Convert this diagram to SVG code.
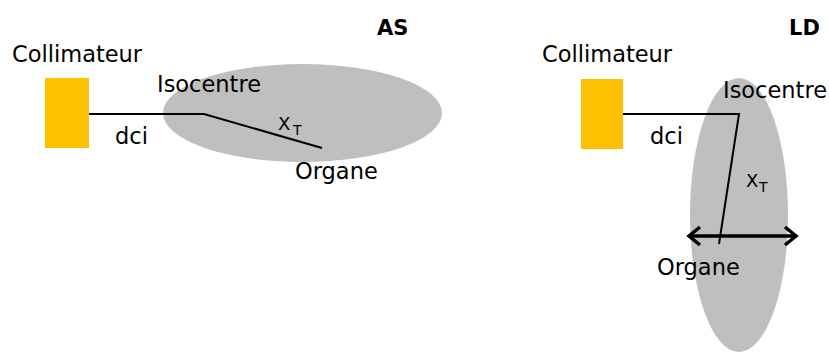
<svg xmlns="http://www.w3.org/2000/svg" width="829" height="352" viewBox="0 0 829 352">
<style>
text{font-family:"DejaVu Sans",sans-serif;fill:#000}
.lbl{font-size:22.5px}
.ttl{font-size:21px;font-weight:bold}
.x{font-size:18px}
.sub{font-size:14px}
.organ{fill:#BFBFBF}
.coll{fill:#FFC000}
.ln{fill:none;stroke:#000;stroke-width:2}
.arr{fill:none;stroke:#000;stroke-width:3.5}
</style>
<rect width="829" height="352" fill="#fff"/>
<g id="AS">
<text class="ttl" x="377" y="35">AS</text>
<g id="as-organe"><ellipse class="organ" cx="302.5" cy="113" rx="139.5" ry="49"/></g>
<g id="as-collimateur"><rect class="coll" x="45" y="78" width="44" height="70"/><text class="lbl" x="12" y="62">Collimateur</text></g>
<g id="as-connectors">
<polyline class="ln" points="89,114 204,114 322,148"/>
</g>
<text class="lbl" x="157" y="92">Isocentre</text>
<text class="lbl" x="115" y="144">dci</text>
<text class="x" x="278" y="130">X</text><text class="sub" x="293" y="135">T</text>
<text class="lbl" x="295" y="179">Organe</text>
</g>
<g id="LD">
<text class="ttl" x="789" y="35">LD</text>
<g id="ld-organe"><ellipse class="organ" cx="739" cy="215" rx="49" ry="137"/></g>
<g id="ld-collimateur"><rect class="coll" x="581" y="79" width="42" height="70"/><text class="lbl" x="542" y="62">Collimateur</text></g>
<g id="ld-connectors">
<polyline class="ln" points="623,114 739,114 719,244"/>
<line class="arr" x1="690" y1="236" x2="795" y2="236"/>
<polyline class="arr" points="700,227 689,236 700,245"/>
<polyline class="arr" points="785,227 796,236 785,245"/>
</g>
<text class="lbl" x="723" y="98">Isocentre</text>
<text class="lbl" x="650" y="144">dci</text>
<text class="x" x="746" y="187">X</text><text class="sub" x="759" y="192">T</text>
<text class="lbl" x="657" y="275">Organe</text>
</g>
</svg>
